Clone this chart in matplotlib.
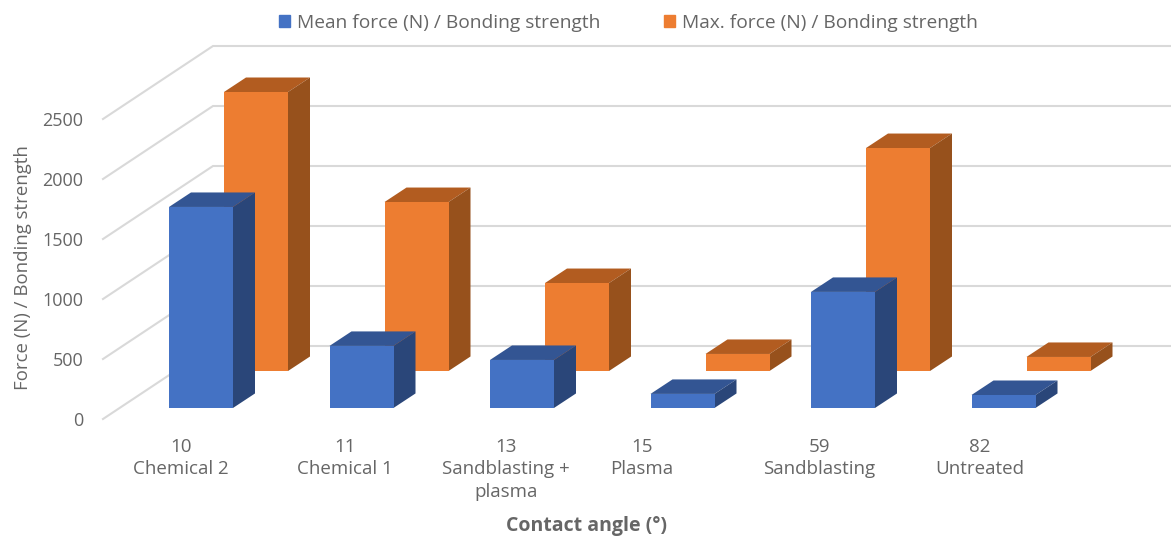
import matplotlib
matplotlib.use("Agg")
import matplotlib.pyplot as plt
from matplotlib.patches import Patch

plt.rcParams['font.family'] = ['Open Sans', 'DejaVu Sans']

# Data
angles = [10, 11, 13, 15, 59, 82]
treatments = ["Chemical 2", "Chemical 1", "Sandblasting +\nplasma", "Plasma", "Sandblasting", "Untreated"]
mean_force = [1675, 517, 400, 117, 967, 108]
max_force = [2325, 1408, 733, 142, 1858, 117]
y_ticks = [0, 500, 1000, 1500, 2000, 2500]

W, H = 1171, 538
PX_PER_UNIT = 0.12        # vertical pixels for one newton
AX_LEFT, AX_BOTTOM = 103, 432
ZERO_PX = 419

# Fake 3D set-up: x axis runs in pixels, y axis in force units
wall_dx, wall_dy = 110, 73 / PX_PER_UNIT
depth_dx, depth_dy = 22, 14.5 / PX_PER_UNIT
bar_w = 64
slot = 160.5
first_bar = 169
label_x = [181, 345, 506, 642, 819, 980]

fig = plt.figure(figsize=(W / 100, H / 100), dpi=100)
ax = fig.add_axes([AX_LEFT / W, (H - AX_BOTTOM) / H, 1 - AX_LEFT / W, AX_BOTTOM / H])
ax.set_xlim(AX_LEFT, W)
ax.set_ylim((ZERO_PX - AX_BOTTOM) / PX_PER_UNIT, ZERO_PX / PX_PER_UNIT)
for s in ax.spines.values():
    s.set_visible(False)

# Gridlines: side wall then back wall
for v in y_ticks:
    ax.plot([AX_LEFT, AX_LEFT + wall_dx, W], [v, v + wall_dy, v + wall_dy],
            color='#d9d9d9', lw=1.5, zorder=1, clip_on=False, solid_joinstyle='miter')


def draw_row(values, x_shift, base, front, top, side, z):
    for i, val in enumerate(values):
        x0 = first_bar + i * slot + x_shift
        ax.bar(x0, val, width=bar_w, bottom=base, align='edge', color=front, zorder=z + 0.2)
        y1 = base + val
        ax.fill([x0, x0 + depth_dx, x0 + bar_w + depth_dx, x0 + bar_w],
                [y1, y1 + depth_dy, y1 + depth_dy, y1], color=top, lw=0, zorder=z)
        ax.fill([x0 + bar_w, x0 + bar_w + depth_dx, x0 + bar_w + depth_dx, x0 + bar_w],
                [base, base + depth_dy, y1 + depth_dy, y1], color=side, lw=0, zorder=z)


# Orange row stands behind the blue one
draw_row(max_force, 55, 400, '#ed7d31', '#b25c20', '#97511c', 2)
draw_row(mean_force, 0, 92, '#4472c4', '#335593', '#2a4679', 3)

grey = '#666666'
ax.set_yticks(y_ticks)
ax.set_yticklabels([str(v) for v in y_ticks], color=grey, fontsize=13)
ax.tick_params(axis='y', length=0, pad=14)
ax.set_xticks(label_x)
ax.set_xticklabels([f"{a}\n{t}" for a, t in zip(angles, treatments)], color=grey,
                   fontsize=13.5, linespacing=1.3)
ax.tick_params(axis='x', length=0, pad=4.5)

ax.set_ylabel("Force (N) / Bonding strength", color=grey, fontsize=13.4, va='center')
ax.yaxis.set_label_coords((23 - AX_LEFT) / (W - AX_LEFT), (AX_BOTTOM - 268) / AX_BOTTOM)
ax.set_xlabel("Contact angle (°)", color=grey, fontsize=14, fontweight='bold')
ax.xaxis.set_label_coords((586 - AX_LEFT) / (W - AX_LEFT), (AX_BOTTOM - 526) / AX_BOTTOM)
ax.xaxis.label.set_va('center')

handles = [Patch(color='#4472c4', label="Mean force (N) / Bonding strength"),
           Patch(color='#ed7d31', label="Max. force (N) / Bonding strength")]
fig.legend(handles=handles, ncol=2, frameon=False, loc='center',
           bbox_to_anchor=(628.5 / W, 1 - 23 / H), fontsize=13.8, labelcolor=grey,
           handlelength=0.57, handleheight=0.57, handletextpad=0.37, columnspacing=3.3,
           borderpad=0, borderaxespad=0)

fig.savefig("out.png", dpi=100)
